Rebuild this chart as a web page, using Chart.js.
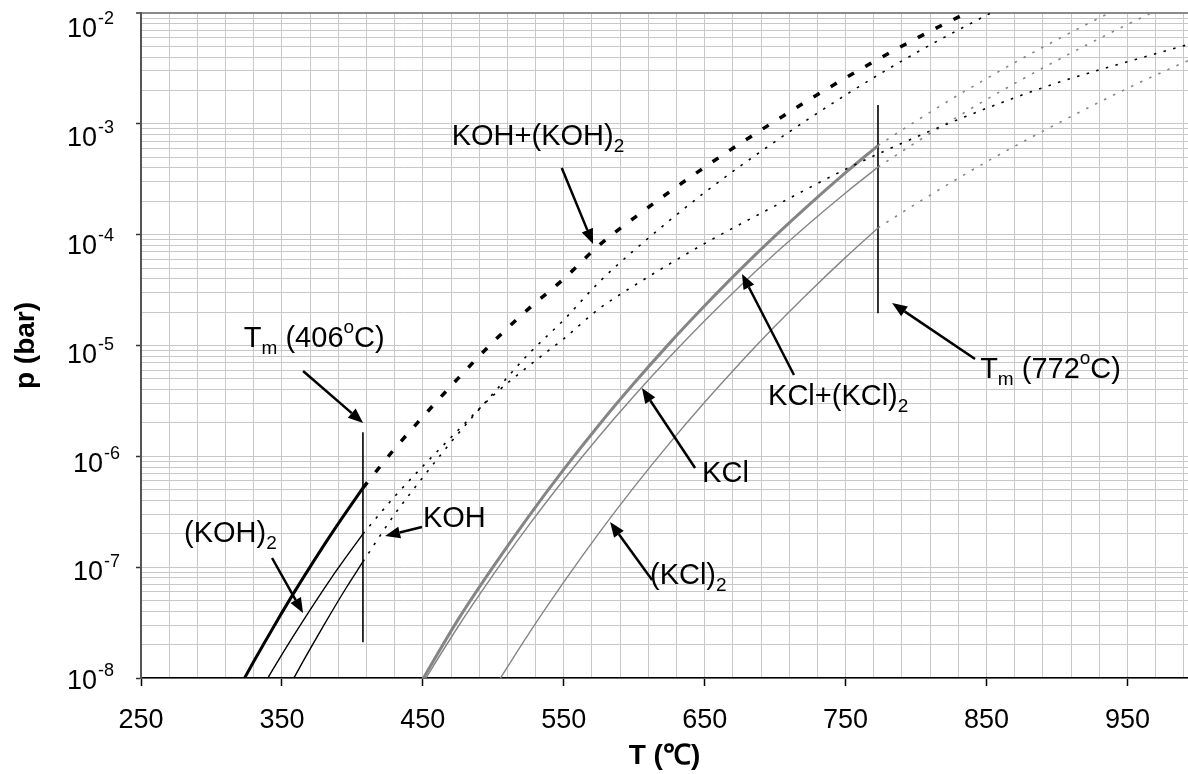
<!DOCTYPE html>
<html><head><meta charset="utf-8">
<script src="https://cdn.jsdelivr.net/npm/chart.js@4/dist/chart.umd.min.js"></script>
<style>html,body{margin:0;padding:0;background:#fff;overflow:hidden}</style>
</head><body>
<canvas id="c" width="1188" height="774"></canvas>
<script>
// ---------- data (T in °C, p in bar) ----------
const tmKOH = 407.5;   // vertical melting line position for KOH
const tmKCl = 773;     // vertical melting line position for KCl

// KOH + 2(KOH)2 total, solid phase (solid line) and liquid (dashed)
const kohTotSolidT = [320, 330, 345, 360, 385, 407.5];
const kohTotSolidP = [8.3e-9, 1.41e-8, 3.03e-8, 6.3e-8, 1.985e-7, 5.2e-7];
const kohTotLiqT = [407.5, 430, 450, 475, 500, 525, 550, 575, 600, 650, 700, 750, 800, 850];
const kohTotLiqP = [5.2e-7, 1.17e-6, 2.27e-6, 5.05e-6, 1.08e-5, 2.14e-5, 3.99e-5, 8.0e-5, 1.42e-4, 4.06e-4, 1.06e-3, 2.6e-3, 5.88e-3, 1.23e-2];

// (KOH)2
const koh2SolidT = [335, 345, 360, 385, 407.5];
const koh2SolidP = [7.78e-9, 1.28e-8, 2.61e-8, 7.98e-8, 2.0e-7];
const koh2LiqT = [407.5, 430, 450, 475, 500, 525, 550, 575, 600, 650, 700, 750, 800, 850, 900, 950, 1000];
const koh2LiqP = [2.0e-7, 4.34e-7, 8.13e-7, 1.72e-6, 3.55e-6, 6.52e-6, 1.15e-5, 2.14e-5, 3.47e-5, 8.32e-5, 1.82e-4, 3.89e-4, 7.59e-4, 1.38e-3, 2.34e-3, 3.63e-3, 5.5e-3];

// KOH
const kohSolidT = [355, 365, 380, 395, 407.5];
const kohSolidP = [8.3e-9, 1.41e-8, 3.03e-8, 6.32e-8, 1.12e-7];
const kohLiqT = [407.5, 430, 450, 475, 500, 525, 550, 575, 600, 650, 700, 750, 800, 850, 875];
const kohLiqP = [1.12e-7, 3.0e-7, 6.46e-7, 1.6e-6, 3.7e-6, 8.37e-6, 1.7e-5, 3.72e-5, 7.24e-5, 2.4e-4, 6.92e-4, 1.82e-3, 4.37e-3, 9.55e-3, 1.39e-2];

// KCl + 2(KCl)2 total
const kclTotSolidT = [445, 475, 500, 525, 550, 575, 600, 625, 650, 675, 700, 725, 750, 773];
const kclTotSolidP = [7.6e-9, 3.36e-8, 1.012e-7, 2.86e-7, 7.62e-7, 1.92e-6, 4.58e-6, 1.045e-5, 2.28e-5, 4.81e-5, 9.75e-5, 1.91e-4, 3.63e-4, 6.37e-4];
const kclTotLiqT = [773, 800, 825, 850, 875, 900, 925, 950];
const kclTotLiqP = [6.37e-4, 1.06e-3, 1.665e-3, 2.56e-3, 3.87e-3, 5.74e-3, 8.38e-3, 1.2e-2];

// KCl
const kclSolidT = [445, 475, 500, 525, 550, 575, 600, 625, 650, 675, 700, 725, 750, 773];
const kclSolidP = [7.13e-9, 2.9e-8, 8.55e-8, 2.37e-7, 6.15e-7, 1.51e-6, 3.52e-6, 7.83e-6, 1.67e-5, 3.42e-5, 6.75e-5, 1.29e-4, 2.38e-4, 4.07e-4];
const kclLiqT = [773, 800, 825, 850, 875, 900, 925, 950, 975];
const kclLiqP = [4.07e-4, 6.81e-4, 1.07e-3, 1.66e-3, 2.51e-3, 3.73e-3, 5.46e-3, 7.87e-3, 1.12e-2];

// (KCl)2
const kcl2SolidT = [495, 500, 525, 550, 575, 600, 625, 650, 675, 700, 725, 750, 773];
const kcl2SolidP = [6.2e-9, 7.87e-9, 2.49e-8, 7.33e-8, 2.03e-7, 5.3e-7, 1.31e-6, 3.08e-6, 6.93e-6, 1.5e-5, 3.11e-5, 6.24e-5, 1.15e-4];
const kcl2LiqT = [773, 800, 850, 900, 950, 1000];
const kcl2LiqP = [1.15e-4, 1.9e-4, 4.54e-4, 1.0e-3, 2.09e-3, 4.09e-3];

// melting-point marker lines (p extents)
const tmKOHLineP = [2.1e-8, 1.65e-6];
const tmKClLineP = [1.95e-5, 1.48e-3];

// axis ticks
const xLabelValues = [250, 350, 450, 550, 650, 750, 850, 950];
const xGridValues = []; for (let t = 250; t <= 990; t += 20) xGridValues.push(t);
const yDecades = [-2, -3, -4, -5, -6, -7, -8];
const yGridValues = [];
yDecades.forEach(e => { for (let m = 1; m <= 9; m++) { if (e === -2 && m > 1) break; yGridValues.push(m * Math.pow(10, e)); } });

// annotations: [text segments], text anchor (T, p), arrow from (T,p) to tip (T,p)
const annotations = [
  { segs: [['KOH+(KOH)', 'n'], ['2', 'sub']], at: [470.5, 6.44e-4], from: [548.6, 3.99e-4], to: [570.8, 8.24e-5] },
  { segs: [['T', 'n'], ['m', 'sub'], [' (406', 'n'], ['o', 'sup'], ['C)', 'n']], at: [323, 9.68e-6], from: [365, 5.89e-6], to: [407.6, 2.0e-6] },
  { segs: [['(KOH)', 'n'], ['2', 'sub']], at: [280.5, 1.69e-7], from: [343, 1.21e-7], to: [365, 3.85e-8] },
  { segs: [['KOH', 'n']], at: [450.1, 2.3e-7], from: [449.4, 2.3e-7], to: [423.2, 1.91e-7] },
  { segs: [['KCl+(KCl)', 'n'], ['2', 'sub']], at: [695, 2.9e-6], from: [713.4, 5.42e-6], to: [676.5, 4.42e-5] },
  { segs: [['KCl', 'n']], at: [648.2, 5.86e-7], from: [643.2, 7.85e-7], to: [605.5, 4.13e-6] },
  { segs: [['(KCl)', 'n'], ['2', 'sub']], at: [611.2, 7.05e-8], from: [612.7, 7.66e-8], to: [582.9, 2.55e-7] },
  { segs: [['T', 'n'], ['m', 'sub'], [' (772', 'n'], ['o', 'sup'], ['C)', 'n']], at: [845.5, 5.09e-6], from: [841.9, 7.55e-6], to: [783, 2.42e-5] }
];

// ---------- helpers ----------
const pts = (T, P) => T.map((t, i) => ({ x: t, y: P[i] }));
const BLACK = '#000000', GRAY = '#858585';
const FONT = '"Liberation Sans", Arial, sans-serif';
const isDecade = v => Math.abs(Math.log10(v) - Math.round(Math.log10(v))) < 1e-9;

function ds(label, data, color, width, dash, extra) {
  return Object.assign({ label, data, borderColor: color, borderWidth: width, borderDash: dash || [],
    pointRadius: 0, fill: false, cubicInterpolationMode: 'monotone', clip: 0, borderCapStyle: 'butt' }, extra || {});
}

const datasets = [
  ds('KOH+(KOH)2', pts(kohTotSolidT, kohTotSolidP), BLACK, 3),
  ds('KOH+(KOH)2 liquid', pts(kohTotLiqT, kohTotLiqP), BLACK, 3.5, [7, 13]),
  ds('(KOH)2', pts(koh2SolidT, koh2SolidP), BLACK, 1.4),
  ds('(KOH)2 liquid', pts(koh2LiqT, koh2LiqP), BLACK, 1.6, [2.5, 7.5]),
  ds('KOH', pts(kohSolidT, kohSolidP), BLACK, 1.4),
  ds('KOH liquid', pts(kohLiqT, kohLiqP), BLACK, 1.6, [2.5, 7.5]),
  ds('KCl+(KCl)2', pts(kclTotSolidT, kclTotSolidP), GRAY, 3),
  ds('KCl+(KCl)2 liquid', pts(kclTotLiqT, kclTotLiqP), GRAY, 1.6, [2.5, 7.5]),
  ds('KCl', pts(kclSolidT, kclSolidP), GRAY, 1.4),
  ds('KCl liquid', pts(kclLiqT, kclLiqP), GRAY, 1.6, [2.5, 7.5]),
  ds('(KCl)2', pts(kcl2SolidT, kcl2SolidP), GRAY, 1.4),
  ds('(KCl)2 liquid', pts(kcl2LiqT, kcl2LiqP), GRAY, 1.6, [2.5, 7.5]),
  ds('Tm KOH', [{ x: tmKOH, y: tmKOHLineP[0] }, { x: tmKOH, y: tmKOHLineP[1] }], BLACK, 1.6, [], { cubicInterpolationMode: 'default', tension: 0 }),
  ds('Tm KCl', [{ x: tmKCl, y: tmKClLineP[0] }, { x: tmKCl, y: tmKClLineP[1] }], BLACK, 1.6, [], { cubicInterpolationMode: 'default', tension: 0 })
];

function drawRich(ctx, x, y, segs) {
  let cx = x;
  segs.forEach(([t, k]) => {
    let size = 29, dy = 0;
    if (k === 'sub') { size = 19; dy = 7; }
    if (k === 'sup') { size = 19; dy = -14; }
    ctx.font = size + 'px ' + FONT;
    ctx.fillText(t, cx, y + dy);
    cx += ctx.measureText(t).width;
  });
}

function drawArrow(ctx, x1, y1, x2, y2) {
  const ang = Math.atan2(y2 - y1, x2 - x1);
  const L = 15, W = 6;
  const bx = x2 - L * Math.cos(ang), by = y2 - L * Math.sin(ang);
  ctx.beginPath(); ctx.moveTo(x1, y1); ctx.lineTo(bx, by); ctx.lineWidth = 2.5; ctx.strokeStyle = '#000'; ctx.stroke();
  ctx.beginPath();
  ctx.moveTo(x2, y2);
  ctx.lineTo(bx + W * Math.sin(ang), by - W * Math.cos(ang));
  ctx.lineTo(bx - W * Math.sin(ang), by + W * Math.cos(ang));
  ctx.closePath(); ctx.fillStyle = '#000'; ctx.fill();
}

const textPlugin = {
  id: 'texts',
  afterDraw(chart) {
    const ctx = chart.ctx, xs = chart.scales.x, ys = chart.scales.y;
    ctx.save();
    ctx.fillStyle = '#000';
    ctx.textBaseline = 'alphabetic';
    // y tick labels 10^n
    yDecades.forEach((e, k) => {
      const y = ys.getPixelForValue(Math.pow(10, e));
      const base = y + 24 - 2.2 * k;
      const right = (e === -6 || e === -7) ? 103 : 97;
      ctx.font = '27px ' + FONT; ctx.textAlign = 'right';
      ctx.fillText('10', right, base);
      ctx.font = '18px ' + FONT; ctx.textAlign = 'left';
      ctx.fillText(String(e), right + 1, base - 13);
    });
    // axis titles
    ctx.font = 'bold 28px ' + FONT; ctx.textAlign = 'center';
    ctx.fillText('T (\u2103)', (chart.chartArea.left + chart.chartArea.right) / 2, 764);
    ctx.save();
    ctx.translate(34, (chart.chartArea.top + chart.chartArea.bottom) / 2);
    ctx.rotate(-Math.PI / 2);
    ctx.fillText('p (bar)', 0, 0);
    ctx.restore();
    // annotations
    ctx.textAlign = 'left';
    annotations.forEach(a => {
      drawRich(ctx, xs.getPixelForValue(a.at[0]), ys.getPixelForValue(a.at[1]), a.segs);
      drawArrow(ctx, xs.getPixelForValue(a.from[0]), ys.getPixelForValue(a.from[1]),
                     xs.getPixelForValue(a.to[0]), ys.getPixelForValue(a.to[1]));
    });
    ctx.restore();
  }
};

new Chart(document.getElementById('c'), {
  type: 'line',
  data: { datasets },
  options: {
    responsive: false, animation: false, devicePixelRatio: 1,
    layout: { padding: { top: 13, right: 0, left: 0, bottom: 0 } },
    plugins: { legend: { display: false }, tooltip: { enabled: false } },
    scales: {
      x: {
        type: 'linear', min: 250, max: 993,
        afterBuildTicks: s => { s.ticks = xGridValues.map(v => ({ value: v })); },
        afterFit: s => { s.height = 96; s.paddingRight = 0; s.paddingLeft = 0; },
        ticks: { autoSkip: false, maxRotation: 0, padding: 18, color: '#000',
          font: { family: FONT, size: 27 },
          callback: v => xLabelValues.includes(v) ? String(v) : '' },
        grid: { color: '#c8c8c8', lineWidth: 1, tickLength: 8, tickWidth: 1.5,
          tickColor: c => (c.tick && xLabelValues.includes(c.tick.value)) ? '#000' : 'rgba(0,0,0,0)' },
        border: { color: '#000', width: 1.5 }
      },
      y: {
        type: 'logarithmic', min: 1e-8, max: 1e-2,
        afterBuildTicks: s => { s.ticks = yGridValues.map(v => ({ value: v })); },
        afterFit: s => { s.width = 141; s.paddingTop = 0; s.paddingBottom = 0; },
        ticks: { autoSkip: false, padding: 0, callback: () => '' },
        grid: { lineWidth: c => (c.tick && Math.abs(c.tick.value - 1e-2) < 1e-12) ? 2 : 1,
          color: c => (c.tick && Math.abs(c.tick.value - 1e-2) < 1e-12) ? '#8a8a8a' : '#c8c8c8',
          tickLength: 5, tickWidth: 1.5,
          tickColor: c => (c.tick && isDecade(c.tick.value)) ? '#333' : 'rgba(0,0,0,0)' },
        border: { color: '#555', width: 2 }
      }
    }
  },
  plugins: [textPlugin]
});
</script>
</body></html>
